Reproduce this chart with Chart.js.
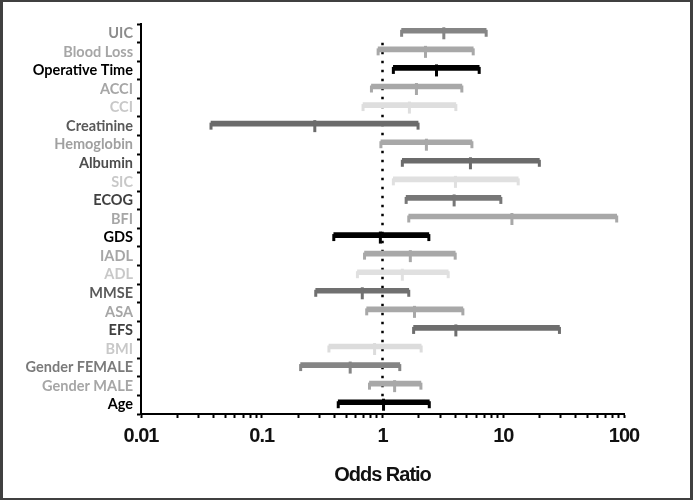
<!DOCTYPE html>
<html>
<head>
<meta charset="utf-8">
<script src="https://cdn.jsdelivr.net/npm/chart.js@4"></script>
<style>
  html, body { margin: 0; padding: 0; background: #fff; }
  #wrap { position: relative; width: 693px; height: 500px; }
  #frame { position: absolute; left: 0; top: 0; width: 693px; height: 500px; box-sizing: border-box;
           border-style: solid; border-color: #404040; border-width: 2px 3px 2px 3px; pointer-events: none; }
  canvas { position: absolute; left: 0; top: 0; }
</style>
</head>
<body>
<div id="wrap">
  <canvas id="c" width="693" height="500"></canvas>
  <div id="frame"></div>
</div>
<script>
// ---- data ----
const categories = ['UIC','Blood Loss','Operative Time','ACCI','CCI','Creatinine','Hemoglobin','Albumin','SIC','ECOG','BFI','GDS','IADL','ADL','MMSE','ASA','EFS','BMI','Gender FEMALE','Gender MALE','Age'];
const oddsRatio = [3.22, 2.27, 2.80, 1.91, 1.67, 0.275, 2.31, 5.35, 4.02, 3.92, 11.8, 0.96, 1.70, 1.46, 0.68, 1.84, 4.05, 0.86, 0.54, 1.26, 1.02];
const ciLow     = [1.44, 0.92, 1.23, 0.81, 0.69, 0.038, 0.97, 1.46, 1.23, 1.57, 1.65, 0.395, 0.71, 0.62, 0.28, 0.74, 1.81, 0.36, 0.21, 0.78, 0.43];
const ciHigh    = [7.22, 5.64, 6.32, 4.54, 4.05, 1.97, 5.5, 19.9, 13.3, 9.55, 87, 2.42, 4.0, 3.50, 1.65, 4.63, 29.2, 2.09, 1.39, 2.08, 2.44];
const xTickValues = [0.01, 0.1, 1, 10, 100];
const xTickLabels = ['0.01', '0.1', '1', '10', '100'];
const referenceValue = 1;

// ---- styles ----
const barColors = ['#858585','#a8a8a8','#000000','#a8a8a8','#dedede','#6b6b6b','#a8a8a8','#6b6b6b','#e0e0e0','#777777','#a8a8a8','#000000','#a8a8a8','#e0e0e0','#707070','#a8a8a8','#6e6e6e','#dcdcdc','#858585','#a8a8a8','#000000'];
const labelColors = ['#8c8c8c','#a6a6a6','#000000','#a6a6a6','#c8c8c8','#595959','#a0a0a0','#4d4d4d','#c8c8c8','#404040','#a6a6a6','#000000','#a6a6a6','#c8c8c8','#595959','#a6a6a6','#404040','#c8c8c8','#7a7a7a','#a6a6a6','#000000'];

const capData = [], capColors = [];
categories.forEach((c, i) => {
  capData.push({x: ciLow[i], y: c});  capColors.push(barColors[i]);
  capData.push({x: ciHigh[i], y: c}); capColors.push(barColors[i]);
});
const medData = categories.map((c, i) => ({x: oddsRatio[i], y: c}));

const axisFont = "'Liberation Sans', Arial, sans-serif";

// tighten letter spacing of the x-axis texts (reference uses a narrow face)
const tightText = {
  id: 'tightText',
  beforeDraw(chart) {
    const s = chart.scales.x;
    if (s && !s._tightWrapped) {
      const dl = s.drawLabels, dt = s.drawTitle;
      s.drawLabels = function (a) { const c = this.ctx; c.save(); c.letterSpacing = '-1px'; dl.call(this, a); c.restore(); };
      s.drawTitle = function (a) { const c = this.ctx; c.save(); c.letterSpacing = '-1px'; dt.call(this, a); c.restore(); };
      s._tightWrapped = true;
    }
  }
};

new Chart(document.getElementById('c'), {
  type: 'bar',
  plugins: [tightText],
  data: {
    labels: categories,
    datasets: [
      {
        type: 'bar',
        data: categories.map((c, i) => [ciLow[i], ciHigh[i]]),
        backgroundColor: barColors,
        barThickness: 5,
        borderSkipped: false,
        borderWidth: 0,
        order: 3
      },
      {
        type: 'scatter',
        data: capData,
        pointStyle: 'line',
        rotation: 90,
        radius: 3.5,
        borderWidth: 3,
        pointBorderColor: capColors,
        pointBackgroundColor: capColors,
        order: 2
      },
      {
        type: 'scatter',
        data: medData,
        pointStyle: 'line',
        rotation: 90,
        radius: 6,
        borderWidth: 3,
        pointBorderColor: barColors,
        pointBackgroundColor: barColors,
        order: 1
      },
      {
        type: 'line',
        yAxisID: 'yRef',
        data: [{x: referenceValue, y: 0}, {x: referenceValue, y: 1}],
        borderColor: '#000',
        borderWidth: 2.5,
        borderDash: [2.5, 6.5],
        pointRadius: 0,
        order: 4
      }
    ]
  },
  options: {
    indexAxis: 'y',
    responsive: false,
    animation: false,
    layout: { padding: { top: 24, right: 69, left: 0, bottom: 0 } },
    plugins: { legend: { display: false }, tooltip: { enabled: false } },
    scales: {
      x: {
        type: 'logarithmic',
        position: 'bottom',
        min: 0.01,
        max: 100,
        afterBuildTicks(scale) {
          const t = [];
          xTickValues.forEach((v, i) => {
            t.push({value: v});
            if (i < xTickValues.length - 1) {
              for (let k = 2; k <= 9; k++) t.push({value: v * k});
            }
          });
          scale.ticks = t;
        },
        afterFit(scale) { scale.height = 86; },
        ticks: {
          autoSkip: false,
          maxRotation: 0,
          padding: 6,
          color: '#111',
          font: { family: axisFont, size: 20, weight: 'bold' },
          callback(value) {
            const idx = xTickValues.findIndex(v => Math.abs(v - value) < v * 1e-6);
            return idx >= 0 ? xTickLabels[idx] : '';
          }
        },
        grid: { display: true, drawOnChartArea: false, drawTicks: true, tickLength: 4, tickColor: '#000', tickWidth: 2 },
        border: { display: true, color: '#000', width: 2 },
        title: {
          display: true,
          text: 'Odds Ratio',
          color: '#111',
          font: { family: axisFont, size: 20, weight: 'bold' },
          padding: { top: 0, bottom: 13 }
        }
      },
      y: {
        type: 'category',
        position: 'left',
        offset: true,
        afterFit(scale) { scale.width = 141; },
        ticks: {
          autoSkip: false,
          padding: 4,
          color: (ctx) => labelColors[ctx.index],
          font: { family: "Lato, 'Liberation Sans', sans-serif", size: 14.5, weight: 'bold' }
        },
        grid: { display: true, drawOnChartArea: false, drawTicks: true, tickLength: 4, tickColor: '#000', tickWidth: 2 },
        border: { display: true, color: '#000', width: 2 }
      },
      yRef: {
        type: 'linear',
        display: false,
        min: 0,
        max: 1
      }
    }
  }
});
</script>
</body>
</html>
